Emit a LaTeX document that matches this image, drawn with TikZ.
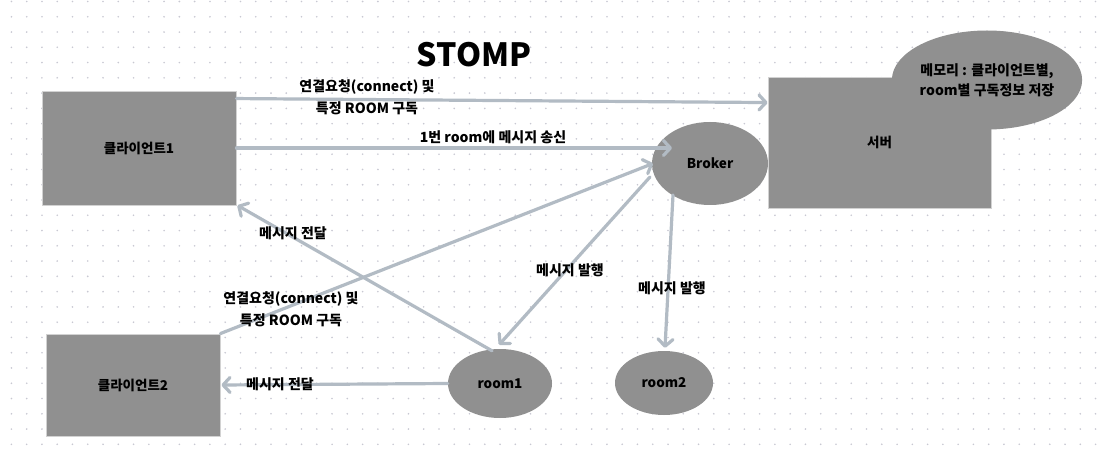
\documentclass[tikz,border=0pt]{standalone}
\usepackage{fontspec}
\setmainfont{Noto Sans CJK KR}
\usetikzlibrary{shapes.geometric,arrows.meta,calc}
\definecolor{boxgray}{HTML}{909090}
\definecolor{edgegray}{HTML}{D2D2D2}
\definecolor{arr}{HTML}{B2BBC4}
\definecolor{dotc}{HTML}{C8C8D2}
\begin{document}
\begin{tikzpicture}[x=1pt,y=-1pt,
  shapetext/.style={font=\bfseries\fontsize{13.5}{20}\selectfont, text=black},
  box/.style={rectangle, fill=boxgray, draw=edgegray, line width=0.9pt, inner sep=0pt, shapetext},
  oval/.style={ellipse, fill=boxgray, draw=none, inner sep=0pt, shapetext},
  conn/.style={draw=arr, line width=3.2pt, line cap=round, -{Straight Barb[length=7pt,width=15pt,line cap=round,line join=round]}},
  lbl/.style={font=\bfseries\fontsize{14}{22}\selectfont, align=center, inner sep=0pt, text=black}
]
\fill[white] (0,0) rectangle (1100,454);
\useasboundingbox (0,0) rectangle (1100,454);
% dot grid
\foreach \i in {0,...,71}{
  \foreach \j in {0,...,29}{
    \fill[dotc] ({11.4+15.27*\i},{1.5+15.27*\j}) circle (0.9);
  }
}
% title
\node[font=\bfseries\fontsize{32}{36}\selectfont, inner sep=0pt] (title) at (474,55) {STOMP};
% nodes
\node[box, minimum width=194pt, minimum height=114pt] (c1) at (139,148) {클라이언트1};
\node[box, minimum width=174pt, minimum height=102pt] (c2) at (133,385) {클라이언트2};
\node[oval, minimum width=116pt, minimum height=83pt] (broker) at (710,163.5) {Broker};
\node[box, minimum width=223pt, minimum height=131pt] (server) at (879.5,142.5) {서버};
\node[oval, minimum width=184pt, minimum height=99pt, align=center, font=\bfseries\fontsize{14}{20}\selectfont] (mem) at (987,80) {메모리 : 클라이언트별,\\room별 구독정보 저장};
\node[oval, minimum width=104pt, minimum height=69pt] (room1) at (500,383.5) {room1};
\node[oval, minimum width=98pt, minimum height=64pt] (room2) at (664,383) {room2};
% connectors
\draw[conn] ($(c1.north east)+(0,8)$) -- ($(server.north west)+(0,26)$);
\draw[conn] (c1.east) -- ($(broker.center)+(-38,-15.5)$);
\draw[conn] (c2.north east) -- ($(broker.center)+(-57,0)$);
\draw[conn] ($(broker.center)+(-60,13.5)$) -- ($(room1.north)+(-1,-4)$);
\draw[conn] ($(broker.center)+(-37,31.5)$) -- ($(room2.north)+(1,-3)$);
\draw[conn] ($(room1.north)+(-8,2)$) -- ($(c1.south east)+(1,0)$);
\draw[conn] (room1.west) -- ($(c2.east)+(1,0)$);
% labels
\node[lbl] (l1) at (367,97) {연결요청(connect) 및\\특정 ROOM 구독};
\node[lbl] (l2) at (493,137) {1번 room에 메시지 송신};
\node[lbl] (l3) at (293,233) {메시지 전달};
\node[lbl] (l4) at (291,309) {연결요청(connect) 및\\특정 ROOM 구독};
\node[lbl] (l5) at (570,270) {메시지 발행};
\node[lbl] (l6) at (672,288) {메시지 발행};
\node[lbl] (l7) at (280,384) {메시지 전달};
\end{tikzpicture}
\end{document}
